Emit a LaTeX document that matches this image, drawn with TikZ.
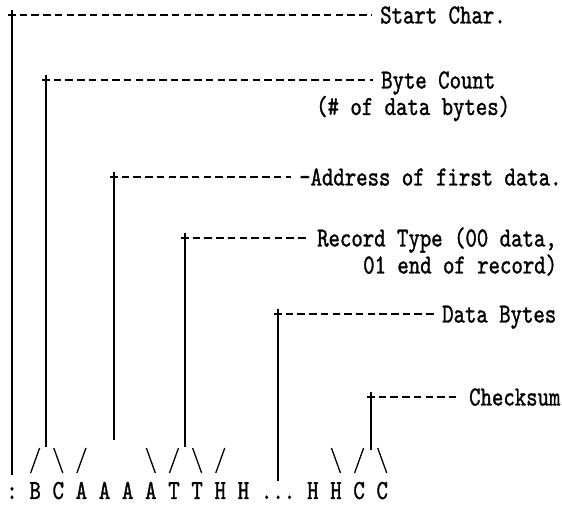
\documentclass[tikz,border=0pt]{standalone}
\usepackage{fontspec}
\newfontfamily\dotmono{lmmono10-regular.otf}[FakeBold=1.2, FakeStretch=0.79]
\begin{document}
\begin{tikzpicture}[x=1pt,y=1pt,
                    txt/.style ={font=\dotmono\fontsize{27.5}{30}\selectfont, inner sep=0pt},
                    lbl/.style ={txt, text height=17pt, text depth=0pt, anchor=west},
                    glyph/.style ={txt, anchor=base},
                    stem/.style ={line width=1.2pt},
                    lead/.style ={line width=1.6pt, dash pattern=on 7.5pt off 4.2pt, shorten >=8.5pt},
                    slash/.style ={line width=1.3pt}]
              \useasboundingbox (0,0) rectangle (562,505);
              \foreach \col/\ch/\nm in {0/:/colon, 2/B/b1, 4/C/c1, 6/A/a1, 8/A/a2, 10/A/a3, 12/A/a4,
                                        14/T/t1, 16/T/t2, 18/H/h1, 20/H/h2, 26/H/h3, 28/H/h4, 30/C/c2, 32/C/c3}
                \node[glyph] (\nm) at (12+11.57*\col,6) {\ch};
              \node[glyph] (dots) at (12+11.57*23,6) {...};
              \node[lbl] (startlbl) at (380,490) {Start Char.};
              \node[lbl] (bytelbl) at (381,425) {Byte Count};
              \node[txt, anchor=base west] (bytelbl2) at (316,390) {(\# of data bytes)};
              \node[lbl] (addrlbl) at (299,328) {-Address of first data.};
              \node[lbl] (typelbl) at (317,267) {Record Type (00 data,};
              \node[txt, anchor=base west] (typelbl2) at (363,231.5) {01 end of record)};
              \node[lbl] (datalbl) at (442,191) {Data Bytes};
              \node[lbl] (checklbl) at (469,108) {Checksum};
              \coordinate (startfoot) at (12,30);
              \coordinate (bytefoot) at (46,58);
              \coordinate (addrfoot) at (114,65);
              \coordinate (typefoot) at (185,58);
              \coordinate (datafoot) at (278,23.5);
              \coordinate (checkfoot) at (371,55);
              \coordinate (startc) at (startfoot |- startlbl.west);
              \coordinate (bytec) at (bytefoot |- bytelbl.west);
              \coordinate (addrc) at (addrfoot |- addrlbl.west);
              \coordinate (typec) at (typefoot |- typelbl.west);
              \coordinate (datac) at (datafoot |- datalbl.west);
              \coordinate (checkc) at (checkfoot |- checklbl.west);
              \draw[stem] (startfoot) -- ([yshift=5pt]startc);
              \draw[lead] ([xshift=-4pt]startc) -- (startlbl.west);
              \draw[stem] (bytefoot) -- ([yshift=5pt]bytec);
              \draw[lead] ([xshift=-4pt]bytec) -- (bytelbl.west);
              \draw[stem] (addrfoot) -- ([yshift=5pt]addrc);
              \draw[lead] ([xshift=-4pt]addrc) -- (addrlbl.west);
              \draw[stem] (typefoot) -- ([yshift=5pt]typec);
              \draw[lead] ([xshift=-4pt]typec) -- (typelbl.west);
              \draw[stem] (datafoot) -- ([yshift=5pt]datac);
              \draw[lead] ([xshift=-4pt]datac) -- (datalbl.west);
              \draw[stem] (checkfoot) -- ([yshift=5pt]checkc);
              \draw[lead] ([xshift=-4pt]checkc) -- (checklbl.west);
              \foreach \nm/\d in {b1/1, c1/-1, a1/1, a4/-1, t1/1, t2/-1, h1/1, h4/-1, c2/1, c3/-1}
                \draw[slash] ([shift={(4.5*\d,51)}]\nm.base) -- ([shift={(-4.5*\d,26)}]\nm.base);
            \end{tikzpicture}
\end{document}
